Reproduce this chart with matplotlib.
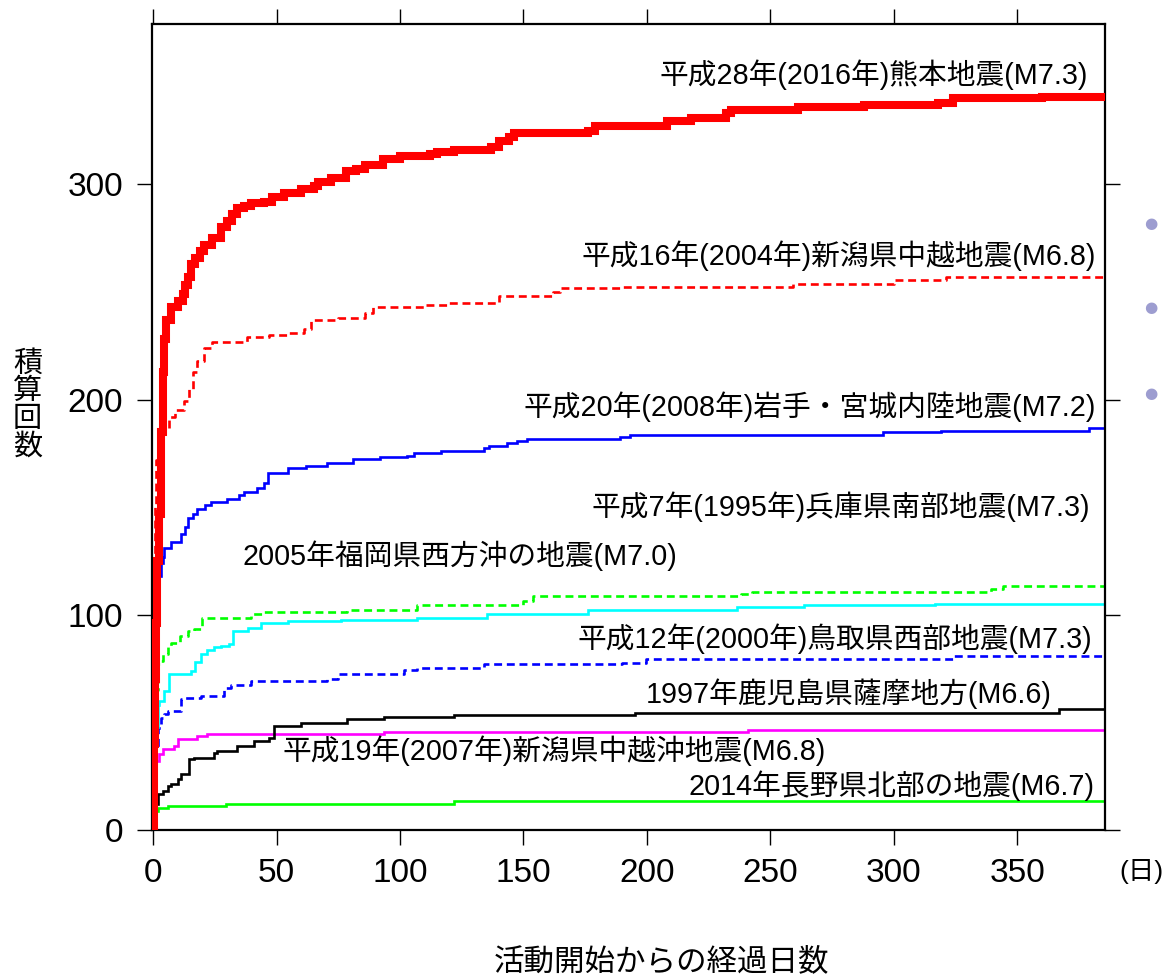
import matplotlib
matplotlib.use("Agg")
import matplotlib.pyplot as plt

plt.rcParams['font.family'] = ['Liberation Sans', 'Noto Sans CJK JP', 'DejaVu Sans']

# ---------------- data (cumulative counts, step data) ----------------
kumamoto_days = [0, 0.3, 0.6, 1.2, 1.8, 2.5, 3.2, 3.9, 4.5, 5.2, 7.2, 10, 12, 13, 14, 15.3, 17, 19,
                 20.7, 24, 27.5, 30, 32, 34.2, 37, 39.6, 45, 48, 53, 60, 65, 67, 72, 78, 82, 86, 93,
                 100, 112, 115, 122, 137, 140, 144, 146, 176, 179, 208, 218, 232, 234, 261, 288, 318,
                 324, 360, 385]
kumamoto_counts = [0, 40, 70, 96, 125, 147, 185, 213, 228, 237, 243, 246, 249, 253, 257, 263, 266, 269,
                   272, 275, 280, 283, 286, 289, 290, 291.5, 292, 294, 296, 298, 299, 301, 303, 306, 307,
                   309, 312, 313, 314, 315, 316, 317.5, 320, 322, 324, 325, 327, 329.5, 331, 333, 334.5,
                   336, 337, 338, 340, 340.7, 340.7]

chuetsu_days = [0, 0.3, 0.6, 1, 2, 3.5, 4.5, 6.6, 9, 12.6, 14.5, 16, 18, 20.7, 24, 38, 47, 55, 61, 64,
                75, 86, 89, 110, 120, 140, 162, 165, 190, 259, 300, 321, 385]
chuetsu_counts = [0, 100, 150, 172, 180, 185, 186, 192, 195, 199.5, 205, 213, 218, 224, 226.6, 229, 230,
                  231, 233, 237, 238, 240, 243, 244, 245, 248, 250, 252, 252.5, 253.5, 255.5, 257, 257]

iwate_days = [0, 0.3, 0.6, 1.2, 2, 2.5, 3.2, 3.9, 4.5, 7.2, 11.3, 13, 14, 16, 18, 21, 23.4, 30, 35, 37,
              42, 45, 46.4, 54.5, 62, 70.6, 81, 92, 103, 105.6, 116.5, 134, 136, 143.5, 147.5, 151.5,
              189, 193, 295.6, 319, 379, 385]
iwate_counts = [0, 60, 90, 106, 115, 118, 124, 127, 131, 134, 137.5, 141, 145, 147, 149, 151, 152.5, 154,
                155.5, 157, 159, 161, 166, 168, 169, 170.5, 172.5, 173.2, 174, 175, 176.3, 177.4, 178.6,
                179.7, 180.6, 181.7, 182.5, 183.7, 184.8, 185.6, 186.8, 186.8]

hyogo_days = [0, 0.3, 0.8, 1.9, 2.5, 4.5, 6.6, 15.3, 17, 19.4, 22, 24.8, 27.5, 30.8, 32.2, 38.3, 43.6,
              54.5, 76, 107, 135.4, 176, 236.6, 263.8, 316.7, 385]
hyogo_counts = [0, 30, 48, 58, 60, 64.7, 72.4, 74, 78, 81.7, 83.5, 84.8, 85.6, 86.4, 92.6, 94, 96,
                97.2, 97.8, 98.7, 100.3, 102, 103.6, 104.4, 105.2, 105.2]

fukuoka_days = [0, 0.3, 0.8, 1.9, 3.2, 3.9, 5.9, 7.2, 11, 14, 16.7, 20, 39.6, 45, 78.7, 107, 150, 154,
                238, 242.7, 339.4, 344, 385]
fukuoka_counts = [0, 40, 65, 77, 78.6, 81.7, 85, 87, 90, 92.6, 93.3, 98.4, 100.3, 101.5, 102.2, 104.4,
                  106.2, 108.5, 109.8, 110.6, 112.2, 113.4, 113.4]

tottori_days = [0, 0.3, 0.8, 1.9, 3.2, 4.5, 5.9, 11.3, 12.6, 19.4, 28.8, 31.5, 39.6, 70.6, 74.7, 101.6,
                107, 134, 190, 199.5, 324, 385]
tottori_counts = [0, 25, 38, 47.6, 52.2, 53.8, 55.3, 60.8, 61.5, 62.3, 66.2, 67.4, 69.3, 70.1, 72.4, 74.5,
                  75.5, 77, 77.8, 79.3, 80.8, 80.8]

kagoshima_days = [0, 0.3, 1, 1.9, 3.9, 5.9, 7.2, 10, 11.3, 14.6, 16.7, 24.8, 26, 34.2, 41, 47, 49, 59.8,
                  78.7, 93.5, 121.8, 195, 366.7, 385]
kagoshima_counts = [0, 6, 12, 16.6, 18.1, 20.5, 21.2, 23.6, 25.9, 32.9, 33.6, 36, 36.7, 39, 41.4, 42.9,
                    48.4, 49.9, 51.5, 52.4, 53.5, 54.3, 56.2, 56.2]

chuetsuoki_days = [0, 0.3, 1.2, 2.5, 3.9, 8.6, 10, 18, 22, 92, 93.5, 241, 385]
chuetsuoki_counts = [0, 20, 32, 35.2, 37.5, 39, 42.2, 43.7, 44.5, 44.8, 45.6, 46.5, 46.5]

nagano_days = [0, 0.3, 1.2, 1.9, 5.9, 29.5, 121.8, 385]
nagano_counts = [0, 5, 8.8, 10.4, 11.2, 12.2, 13.5, 13.5]

labels = [
    "平成28年(2016年)熊本地震(M7.3)",
    "平成16年(2004年)新潟県中越地震(M6.8)",
    "平成20年(2008年)岩手・宮城内陸地震(M7.2)",
    "平成7年(1995年)兵庫県南部地震(M7.3)",
    "2005年福岡県西方沖の地震(M7.0)",
    "平成12年(2000年)鳥取県西部地震(M7.3)",
    "1997年鹿児島県薩摩地方(M6.6)",
    "平成19年(2007年)新潟県中越沖地震(M6.8)",
    "2014年長野県北部の地震(M6.7)",
]
x_ticks = [0, 50, 100, 150, 200, 250, 300, 350]
y_ticks = [0, 100, 200, 300]

# ---------------- figure ----------------
W, H = 1165, 977
fig = plt.figure(figsize=(W / 100, H / 100), dpi=100)
ax = fig.add_axes([152.3 / W, 1 - 830 / H, (1104.5 - 152.3) / W, (830 - 24) / H])

dash = (0, (3.0, 1.8))
series = [
    (kumamoto_days, kumamoto_counts, '#ff0000', 5.8, '-'),
    (chuetsu_days, chuetsu_counts, '#ff0000', 1.9, dash),
    (iwate_days, iwate_counts, '#0000ff', 1.9, '-'),
    (fukuoka_days, fukuoka_counts, '#00ff00', 1.9, dash),
    (hyogo_days, hyogo_counts, '#00ffff', 1.9, '-'),
    (tottori_days, tottori_counts, '#0000ff', 1.9, dash),
    (kagoshima_days, kagoshima_counts, '#000000', 1.9, '-'),
    (chuetsuoki_days, chuetsuoki_counts, '#ff00ff', 1.9, '-'),
    (nagano_days, nagano_counts, '#00ff00', 1.9, '-'),
]
# draw thin lines first, thick Kumamoto line on top
for d, c, col, lw, ls in series[::-1]:
    ax.plot(d, c, color=col, lw=lw, ls=ls, drawstyle='steps-post',
            solid_joinstyle='miter', zorder=3 if lw > 3 else 2)

ax.set_xlim(-0.3, 385.3)
ax.set_ylim(0, 374.5)
ax.set_xticks(x_ticks)
ax.set_yticks(y_ticks)
ax.tick_params(axis='both', which='major', direction='out', length=11, width=1.0,
               labelsize=24, pad=10, top=True, right=True)
ax.tick_params(axis='x', pad=9)
for s in ax.spines.values():
    s.set_linewidth(1.6)

# annotations
fs = 20.7


def ptext(x, y, s, ha='right'):
    fig.text(x / W, 1 - y / H, s, fontsize=fs, ha=ha, va='center')


ptext(1088, 75, labels[0])
ptext(1096, 256, labels[1])
ptext(1096, 407, labels[2])
ptext(1090, 507, labels[3])
ptext(242, 556, labels[4], ha='left')
ptext(1092, 639, labels[5])
ptext(1052, 694, labels[6])
ptext(282, 751, labels[7], ha='left')
ptext(1095, 786, labels[8])

# axis labels
fig.text(27.5 / W, 1 - 405 / H, "積\n算\n回\n数", fontsize=21, ha='center', va='center',
         linespacing=0.98)
fig.text(661 / W, 1 - 962 / H, "活動開始からの経過日数", fontsize=22, ha='center', va='center')
fig.text(1141 / W, 1 - 871 / H, "(日)", fontsize=19, ha='center', va='center')

# slide bullets at right edge
for yy in (223, 308, 393):
    fig.text(1151 / W, 1 - yy / H, "●", fontsize=11, color='#9d9dd0', ha='center', va='center',
             family=['DejaVu Sans'])

fig.savefig("out.png", dpi=100)
